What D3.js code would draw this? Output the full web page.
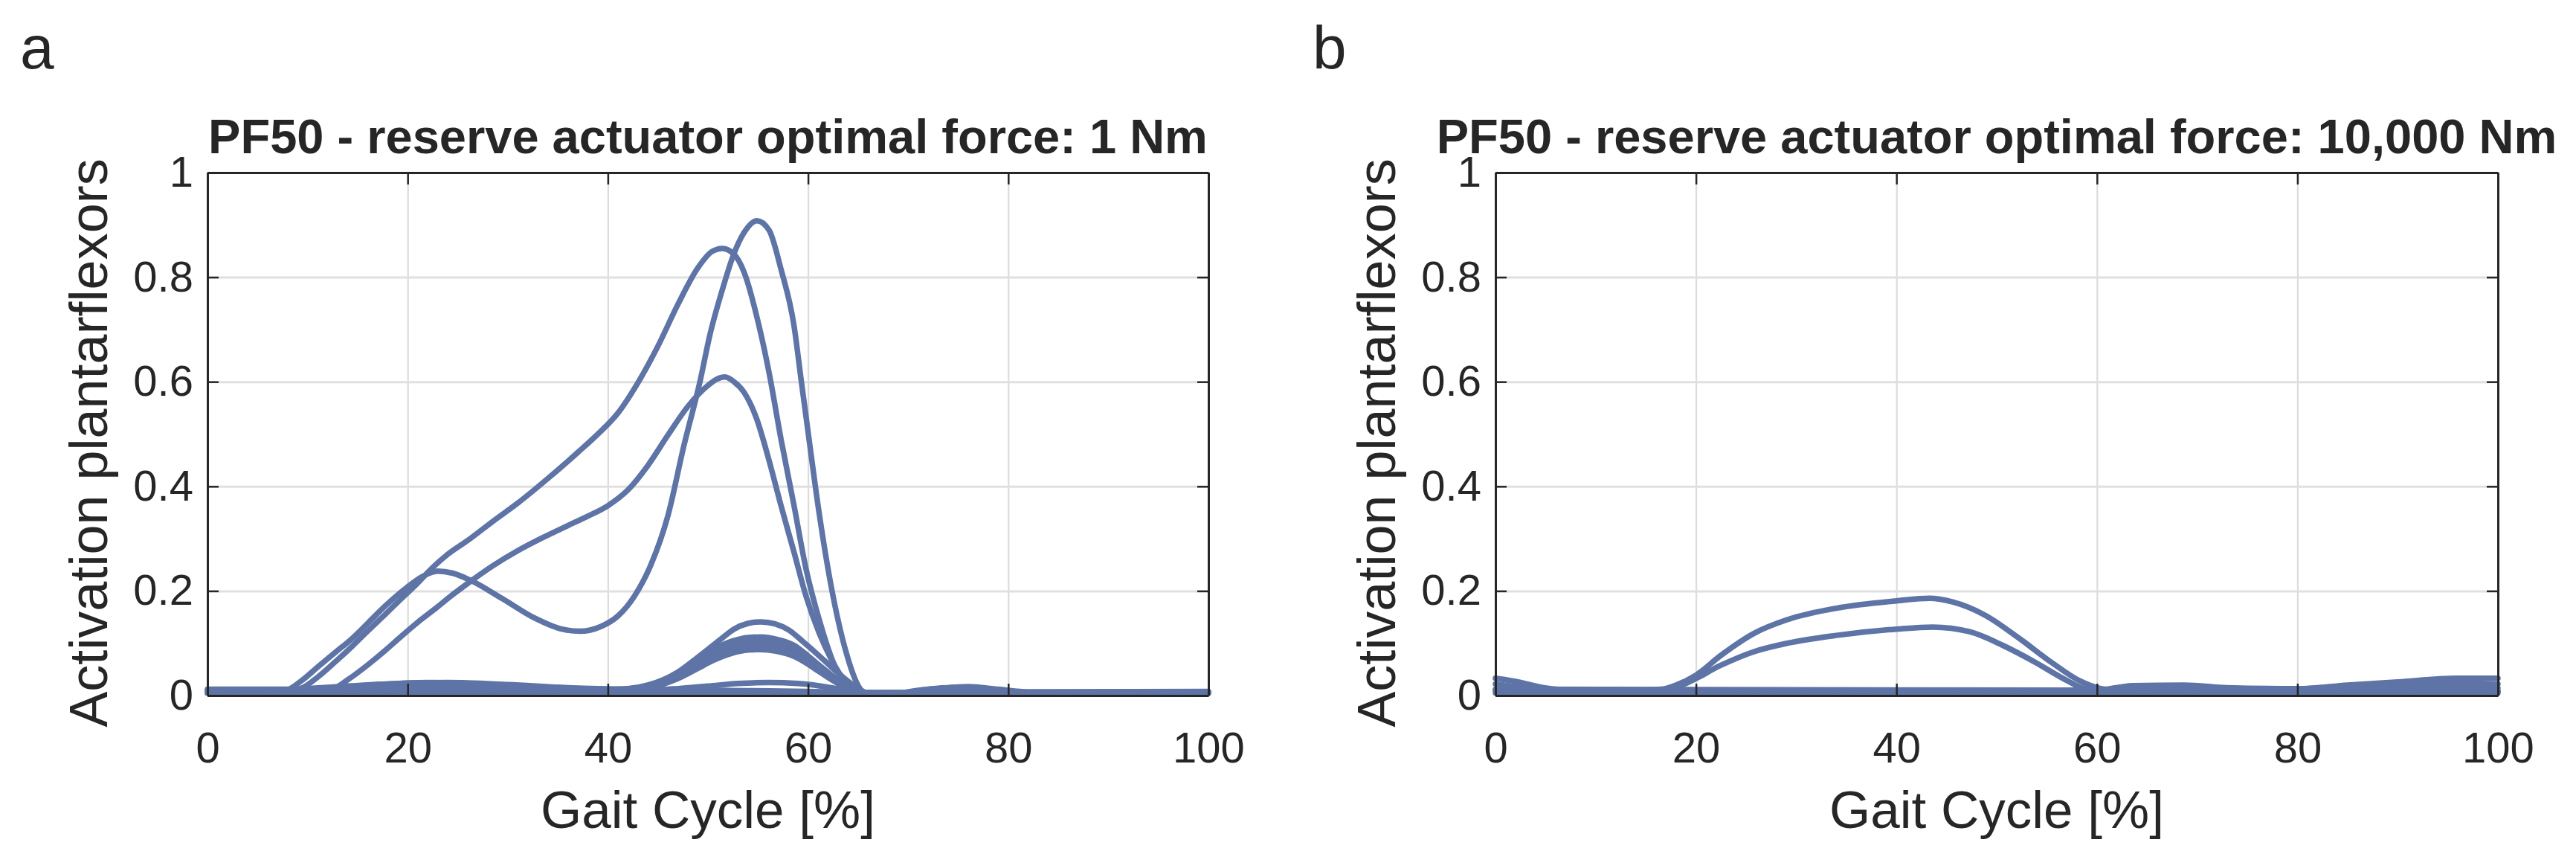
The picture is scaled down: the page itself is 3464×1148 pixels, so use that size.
<!DOCTYPE html>
<html>
<head>
<meta charset="utf-8">
<script src="https://cdn.jsdelivr.net/npm/d3@7"></script>
<style>
  html, body { margin: 0; padding: 0; background: #fff; }
  svg { display: block; }
  text { font-family: "Liberation Sans", Arial, sans-serif; fill: #262626; }
</style>
</head>
<body>
<svg width="3464" height="1148"></svg>
<script>
// ticks and labels
const xTicks = [0, 20, 40, 60, 80, 100];
const yTicks = [0, 0.2, 0.4, 0.6, 0.8, 1];
const titleA = "PF50 - reserve actuator optimal force: 1 Nm";
const titleB = "PF50 - reserve actuator optimal force: 10,000 Nm";
const xLabel = "Gait Cycle [%]";
const yLabel = "Activation plantarflexors";

// panel a, [gait %, activation]
const a1 = [[0,0.008],[6,0.008],[7.8,0.01],[9.5,0.03],[11.1,0.056],[12.8,0.083],[14.5,0.11],[16.1,0.14],[17.8,0.172],[19.8,0.205],[21.5,0.228],[23,0.238],[24.5,0.234],[26.1,0.222],[29.4,0.186],[32.7,0.148],[35.4,0.127],[37.2,0.123],[39.3,0.132],[41,0.152],[42.65,0.19],[44.3,0.25],[46,0.344],[47.6,0.478],[49.2,0.6],[50.2,0.69],[51.5,0.78],[52.5,0.84],[53.6,0.885],[54.9,0.908],[56.1,0.89],[57.3,0.815],[58.6,0.707],[59.3,0.605],[60.1,0.49],[61.1,0.35],[62.3,0.21],[63.8,0.083],[65,0.019],[66,0.0],[67.5,0.0],[69,0.005],[100,0.006]];
const a2 = [[0,0.008],[7,0.008],[8.5,0.01],[9.5,0.015],[11,0.035],[12.8,0.065],[14.5,0.095],[16.1,0.125],[17.8,0.156],[19.4,0.186],[21,0.215],[22.4,0.243],[24,0.27],[26.1,0.298],[28.5,0.333],[31,0.368],[34,0.415],[37,0.465],[39,0.5],[41,0.54],[43,0.598],[45,0.668],[47,0.748],[49,0.818],[50.4,0.849],[51.45,0.855],[52.6,0.844],[53.6,0.81],[55.1,0.707],[56.1,0.618],[57.3,0.49],[58.6,0.363],[59.8,0.242],[61.1,0.146],[62.8,0.051],[64.3,0.013],[65.5,0.003],[67,0.002],[69,0.005],[100,0.006]];
const a3 = [[0,0.008],[11.5,0.008],[12.5,0.012],[14,0.03],[16.1,0.06],[17.8,0.087],[19.4,0.114],[21,0.14],[22.75,0.166],[24.5,0.193],[26.4,0.22],[28.5,0.248],[31,0.277],[33.5,0.302],[36,0.325],[38,0.343],[40,0.363],[42,0.393],[44,0.44],[46,0.498],[48,0.553],[50,0.593],[50.9,0.605],[51.7,0.609],[52.6,0.6],[53.6,0.58],[54.85,0.53],[56.1,0.45],[57.3,0.363],[58.6,0.274],[59.8,0.19],[61.1,0.12],[62.3,0.07],[63.8,0.025],[65,0.006],[66.5,0.0],[68,0.004],[100,0.006]];
const a4 = [[0,0.01],[10,0.01],[15,0.018],[22,0.025],[30,0.02],[38,0.012],[42,0.012],[44,0.015],[46.2,0.031],[48,0.058],[49.9,0.087],[51.3,0.108],[52.6,0.127],[54,0.138],[55.3,0.141],[56.7,0.137],[58.1,0.125],[59.5,0.103],[61,0.078],[62.3,0.055],[63.5,0.035],[64.5,0.02],[65.5,0.008],[66.5,0.0],[68,-0.002],[70,0.006],[73,0.014],[76,0.016],[79,0.01],[82,0.006],[100,0.006]];
const a5 = [[0,0.01],[10,0.01],[16,0.015],[22,0.018],[30,0.015],[38,0.01],[42,0.013],[44,0.02],[45.5,0.03],[47,0.045],[48.7,0.068],[50.5,0.088],[52.4,0.104],[54,0.111],[55.3,0.112],[56.8,0.108],[58.6,0.096],[60,0.076],[61,0.06],[62.3,0.04],[63.5,0.022],[64.5,0.01],[65.5,0.002],[67,-0.003],[69,0.004],[72,0.012],[75.5,0.015],[79,0.01],[82,0.006],[100,0.006]];
const a6 = [[0,0.008],[12,0.008],[20,0.012],[28,0.012],[40,0.01],[43,0.015],[45,0.025],[47,0.042],[48.7,0.062],[50.5,0.082],[52.4,0.097],[54,0.103],[55.3,0.104],[56.8,0.1],[58.6,0.089],[60,0.071],[61,0.056],[62.3,0.037],[63.5,0.02],[64.5,0.009],[65.5,0.002],[67,0.0],[70,0.005],[100,0.006]];
const a7 = [[0,0.008],[40,0.01],[43.5,0.015],[45.5,0.026],[47,0.038],[48.7,0.057],[50.5,0.076],[52.4,0.09],[54,0.096],[55.3,0.097],[56.8,0.093],[58.6,0.083],[60,0.066],[61,0.052],[62.3,0.034],[63.5,0.018],[64.5,0.008],[65.5,0.002],[67,0.0],[70,0.005],[100,0.006]];
const a8 = [[0,0.008],[41,0.01],[44,0.014],[46,0.025],[47.5,0.037],[49,0.052],[50.5,0.067],[52.4,0.081],[54,0.087],[55.3,0.088],[56.8,0.085],[58.6,0.075],[60,0.06],[61,0.047],[62.3,0.031],[63.5,0.017],[64.5,0.007],[65.5,0.002],[67,0.0],[70,0.005],[100,0.006]];
const a9 = [[0,0.01],[44,0.01],[47.4,0.014],[50,0.018],[53,0.023],[56.1,0.025],[59,0.023],[62.3,0.015],[64.5,0.007],[66,0.002],[70,0.005],[100,0.007]];
const a10 = [[0,0.012],[8,0.012],[14,0.018],[20,0.024],[24,0.025],[30,0.021],[36,0.015],[42,0.012],[50,0.01],[60,0.008],[65,0.006],[70,0.006],[73,0.013],[76,0.017],[79,0.012],[82,0.007],[100,0.008]];
const a11 = [[0,0.004],[60,0.004],[66,0.0],[68,-0.002],[72,0.004],[100,0.004]];

// panel b
const b1 = [[0,0.01],[14,0.01],[16.5,0.012],[18,0.02],[20,0.039],[22.5,0.077],[25.8,0.119],[29.1,0.145],[34,0.167],[40,0.181],[43.3,0.186],[45.6,0.179],[48.9,0.153],[52.2,0.11],[55.5,0.063],[58.2,0.029],[60.5,0.013],[63.8,0.008],[100,0.008]];
const b2 = [[0,0.01],[15,0.01],[17.5,0.013],[19.2,0.025],[22.5,0.058],[25.8,0.084],[29.1,0.1],[34,0.115],[40,0.127],[43.6,0.131],[47.3,0.122],[50.6,0.096],[53.9,0.063],[56.5,0.034],[58.8,0.013],[61,0.008],[100,0.008]];
const b3 = [[0,0.033],[2,0.027],[4.8,0.015],[8,0.01],[60,0.01],[63.5,0.019],[68.7,0.02],[73,0.015],[80,0.013],[85,0.02],[90,0.026],[95.8,0.033],[100,0.033]];
const b4 = [[0,0.022],[3,0.015],[6,0.01],[60,0.009],[65,0.013],[70,0.014],[75,0.01],[80,0.009],[90,0.017],[96,0.024],[100,0.022]];
const b5 = [[0,0.012],[80,0.01],[90,0.012],[97,0.016],[100,0.014]];
const b6 = [[0,0.005],[100,0.005]];

const seriesA = [a11, a10, a9, a8, a7, a6, a5, a4, a3, a2, a1];
const seriesB = [b6, b5, b4, b3, b2, b1];

const svg = d3.select("svg");
svg.append("rect").attr("width", 3464).attr("height", 1148).attr("fill", "#fff");

const lineColor = "#5e74a6";
const axisColor = "#262626";
const plotTop = 232, plotBottom = 935;

const panels = [
  {id: "a", left: 279, right: 1625, title: titleA, series: seriesA, tag: "a", tagX: 27},
  {id: "b", left: 2011, right: 3359, title: titleB, series: seriesB, tag: "b", tagX: 1765}
];

panels.forEach(p => {
  const w = p.right - p.left, h = plotBottom - plotTop;
  const x = d3.scaleLinear().domain([0, 100]).range([0, w]);
  const y = d3.scaleLinear().domain([0, 1]).range([h, 0]);

  const g = svg.append("g").attr("transform", `translate(${p.left},${plotTop})`);

  g.append("clipPath").attr("id", "clip-" + p.id)
    .append("rect").attr("x", -4).attr("y", -4).attr("width", w + 8).attr("height", h + 4);

  // grid
  g.append("g")
    .attr("transform", `translate(0,${h})`)
    .call(d3.axisBottom(x).tickValues([20, 40, 60, 80]).tickSize(-h).tickFormat(""))
    .call(s => s.select(".domain").remove())
    .call(s => s.selectAll("line").attr("stroke", "#dcdcdc").attr("stroke-width", 2.2));
  g.append("g")
    .call(d3.axisLeft(y).tickValues([0.2, 0.4, 0.6, 0.8]).tickSize(-w).tickFormat(""))
    .call(s => s.select(".domain").remove())
    .call(s => s.selectAll("line").attr("stroke", "#e0e0e0").attr("stroke-width", 3));

  // lines
  const line = d3.line()
    .x(d => x(d[0]))
    .y(d => y(d[1]))
    .curve(d3.curveMonotoneX);

  g.append("g").attr("clip-path", `url(#clip-${p.id})`)
    .selectAll("path")
    .data(p.series)
    .enter()
    .append("path")
    .attr("d", line)
    .attr("fill", "none")
    .attr("stroke", lineColor)
    .attr("stroke-width", 7.5)
    .attr("stroke-linejoin", "round")
    .attr("stroke-linecap", "round");

  // axes box, ticks inward
  const styleAxis = s => {
    s.select(".domain").attr("stroke", axisColor).attr("stroke-width", 3);
    s.selectAll(".tick line").attr("stroke", axisColor).attr("stroke-width", 2.5);
  };

  g.append("g")
    .attr("transform", `translate(0,${h})`)
    .call(d3.axisBottom(x).tickValues(xTicks).tickSize(-16).tickSizeOuter(0).tickPadding(49).tickFormat(d3.format("d")))
    .call(styleAxis)
    .call(s => s.selectAll("text").attr("font-size", 58).attr("fill", axisColor)
      .attr("font-family", '"Liberation Sans", Arial, sans-serif'));

  g.append("g")
    .call(d3.axisTop(x).tickValues(xTicks).tickSize(-16).tickSizeOuter(0).tickFormat(""))
    .call(styleAxis);

  g.append("g")
    .call(d3.axisLeft(y).tickValues(yTicks).tickSize(-15).tickSizeOuter(0).tickPadding(19).tickFormat(d3.format("~g")))
    .call(styleAxis)
    .call(s => s.selectAll("text").attr("font-size", 58).attr("fill", axisColor)
      .attr("font-family", '"Liberation Sans", Arial, sans-serif'));

  g.append("g")
    .attr("transform", `translate(${w},0)`)
    .call(d3.axisRight(y).tickValues(yTicks).tickSize(-15).tickSizeOuter(0).tickFormat(""))
    .call(styleAxis);

  // title
  svg.append("text")
    .attr("x", p.left + w / 2)
    .attr("y", 206)
    .attr("text-anchor", "middle")
    .attr("font-size", 65)
    .attr("font-weight", "bold")
    .attr("fill", "#000")
    .text(p.title);

  // axis labels
  svg.append("text")
    .attr("x", p.left + w / 2)
    .attr("y", 1113)
    .attr("text-anchor", "middle")
    .attr("font-size", 71)
    .text(xLabel);

  svg.append("text")
    .attr("transform", `translate(${p.left - 135},${plotTop + h / 2 + 12}) rotate(-90)`)
    .attr("text-anchor", "middle")
    .attr("font-size", 72)
    .text(yLabel);

  // panel tag
  svg.append("text")
    .attr("x", p.tagX)
    .attr("y", 92)
    .attr("font-size", 82)
    .attr("fill", "#000")
    .text(p.tag);
});
</script>
</body>
</html>
